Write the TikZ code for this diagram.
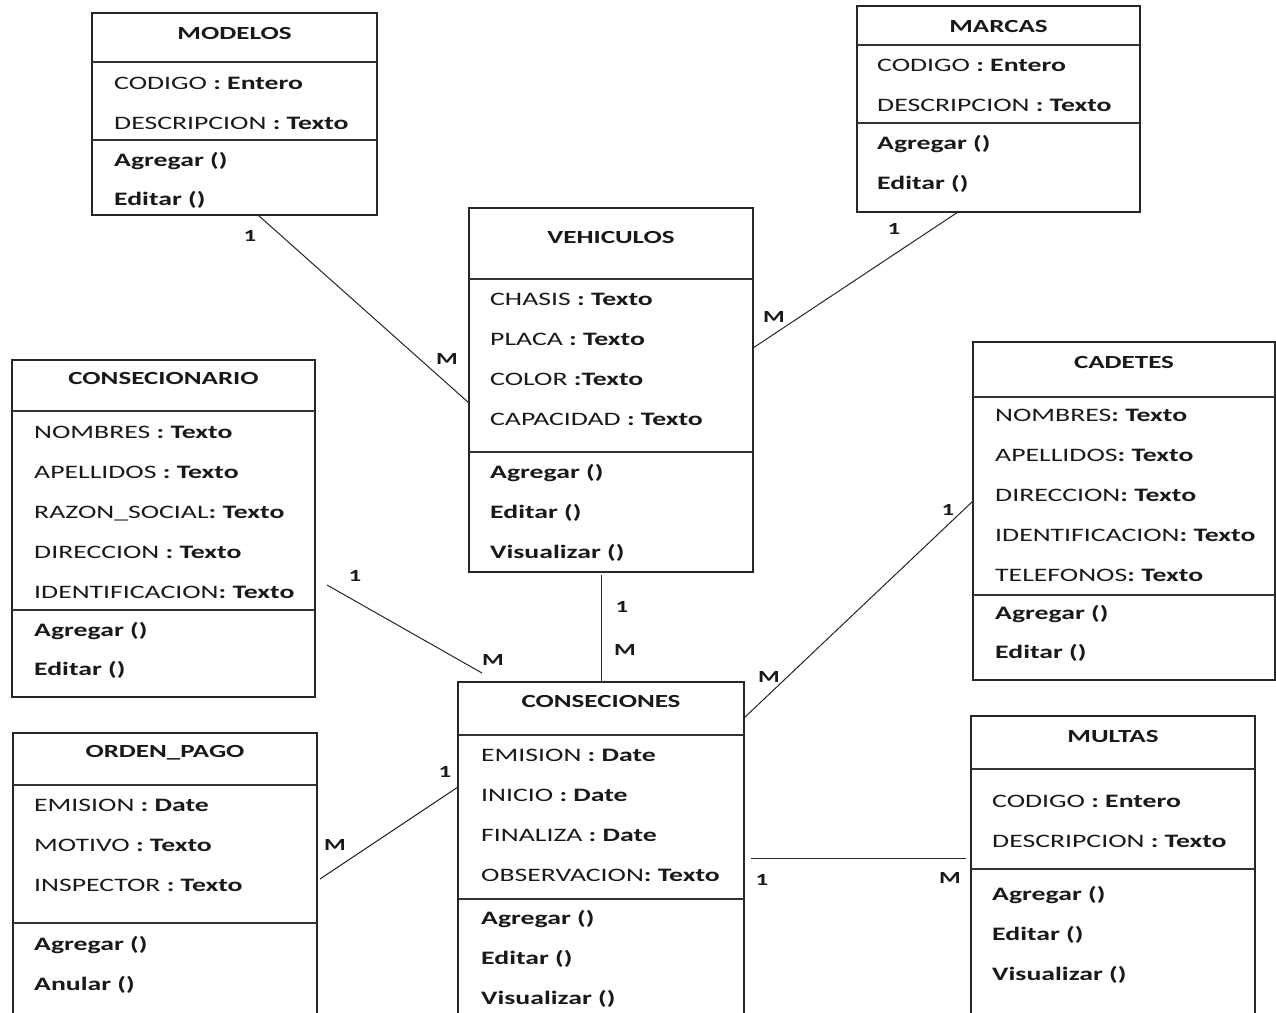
\documentclass[tikz,border=0pt]{standalone}
\usepackage{fontspec}
\setmainfont{Carlito}[FakeStretch=1.46]
\begin{document}
\begin{tikzpicture}[x=1pt,y=-1pt,
  box/.style={draw=black!85,line width=1.5pt,anchor=north west,inner sep=0pt,outer sep=0pt},
  sepline/.style={draw=black!80,line width=1.4pt},
  title/.style={font=\fontsize{18.5}{20}\selectfont\bfseries,inner sep=0pt,anchor=base,text=black!90},
  item/.style={font=\fontsize{19}{21}\selectfont,inner sep=0pt,anchor=base west,text=black!90},
  link/.style={draw=black!85,line width=1pt},
  mult/.style={font=\fontsize{17}{19}\selectfont\bfseries,inner sep=0pt,text=black!90}]
\useasboundingbox (0,0) rectangle (1276,1012);
\clip (0,0) rectangle (1276,1012);
\fill[white] (0,0) rectangle (1276,1012);

% ---------- MODELOS ----------
\node[box,minimum width=285,minimum height=202] (modelos) at (92,13) {};
\draw[sepline] (modelos.west |- 0,62) -- (modelos.east |- 0,62);
\draw[sepline] (modelos.west |- 0,140) -- (modelos.east |- 0,140);
\node[title] (modelosT) at (234.5,39) {MODELOS};
\node[item] (mo1) at (114,89) {CODIGO \textbf{: Entero}};
\node[item] (mo2) at (114,129) {DESCRIPCION \textbf{: Texto}};
\node[item] (mo3) at (114,166) {\textbf{Agregar ()}};
\node[item] (mo4) at (114,205) {\textbf{Editar ()}};

% ---------- MARCAS ----------
\node[box,minimum width=283,minimum height=206] (marcas) at (857,6) {};
\draw[sepline] (marcas.west |- 0,45) -- (marcas.east |- 0,45);
\draw[sepline] (marcas.west |- 0,123) -- (marcas.east |- 0,123);
\node[title] (marcasT) at (998.5,32) {MARCAS};
\node[item] (ma1) at (877,71) {CODIGO \textbf{: Entero}};
\node[item] (ma2) at (877,111) {DESCRIPCION \textbf{: Texto}};
\node[item] (ma3) at (877,149) {\textbf{Agregar ()}};
\node[item] (ma4) at (877,189) {\textbf{Editar ()}};

% ---------- VEHICULOS ----------
\node[box,minimum width=284,minimum height=364] (vehiculos) at (469,208) {};
\draw[sepline] (vehiculos.west |- 0,279) -- (vehiculos.east |- 0,279);
\draw[sepline] (vehiculos.west |- 0,452) -- (vehiculos.east |- 0,452);
\node[title] (vehiculosT) at (611,243) {VEHICULOS};
\node[item] (ve1) at (490,305) {CHASIS \textbf{: Texto}};
\node[item] (ve2) at (490,345) {PLACA \textbf{: Texto}};
\node[item] (ve3) at (490,385) {COLOR \textbf{:Texto}};
\node[item] (ve4) at (490,425) {CAPACIDAD \textbf{: Texto}};
\node[item] (ve5) at (490,478) {\textbf{Agregar ()}};
\node[item] (ve6) at (490,518) {\textbf{Editar ()}};
\node[item] (ve7) at (490,558) {\textbf{Visualizar ()}};

% ---------- CONSECIONARIO ----------
\node[box,minimum width=303,minimum height=337] (consecionario) at (12,360) {};
\draw[sepline] (consecionario.west |- 0,411) -- (consecionario.east |- 0,411);
\draw[sepline] (consecionario.west |- 0,610) -- (consecionario.east |- 0,610);
\node[title] (consecionarioT) at (163.5,384) {CONSECIONARIO};
\node[item] (cn1) at (34,438) {NOMBRES \textbf{: Texto}};
\node[item] (cn2) at (34,478) {APELLIDOS \textbf{: Texto}};
\node[item] (cn3) at (34,518) {RAZON\_SOCIAL\textbf{: Texto}};
\node[item] (cn4) at (34,558) {DIRECCION \textbf{: Texto}};
\node[item] (cn5) at (34,598) {IDENTIFICACION\textbf{: Texto}};
\node[item] (cn6) at (34,636) {\textbf{Agregar ()}};
\node[item] (cn7) at (34,675) {\textbf{Editar ()}};

% ---------- CADETES ----------
\node[box,minimum width=302,minimum height=338] (cadetes) at (973,342) {};
\draw[sepline] (cadetes.west |- 0,397) -- (cadetes.east |- 0,397);
\draw[sepline] (cadetes.west |- 0,595) -- (cadetes.east |- 0,595);
\node[title] (cadetesT) at (1124,368) {CADETES};
\node[item] (ca1) at (995,421) {NOMBRES\textbf{: Texto}};
\node[item] (ca2) at (995,461) {APELLIDOS\textbf{: Texto}};
\node[item] (ca3) at (995,501) {DIRECCION\textbf{: Texto}};
\node[item] (ca4) at (995,541) {IDENTIFICACION\textbf{: Texto}};
\node[item] (ca5) at (995,581) {TELEFONOS\textbf{: Texto}};
\node[item] (ca6) at (995,619) {\textbf{Agregar ()}};
\node[item] (ca7) at (995,658) {\textbf{Editar ()}};

% ---------- ORDEN_PAGO ----------
\node[box,minimum width=304,minimum height=300] (orden) at (13,733) {};
\draw[sepline] (orden.west |- 0,785) -- (orden.east |- 0,785);
\draw[sepline] (orden.west |- 0,923) -- (orden.east |- 0,923);
\node[title] (ordenT) at (165,757) {ORDEN\_PAGO};
\node[item] (or1) at (34,811) {EMISION \textbf{: Date}};
\node[item] (or2) at (34,851) {MOTIVO \textbf{: Texto}};
\node[item] (or3) at (34,891) {INSPECTOR \textbf{: Texto}};
\node[item] (or4) at (34,950) {\textbf{Agregar ()}};
\node[item] (or5) at (34,990) {\textbf{Anular ()}};

% ---------- CONSECIONES ----------
\node[box,minimum width=286,minimum height=350] (conseciones) at (458,682) {};
\draw[sepline] (conseciones.west |- 0,735) -- (conseciones.east |- 0,735);
\draw[sepline] (conseciones.west |- 0,899) -- (conseciones.east |- 0,899);
\node[title] (consecionesT) at (601,707) {CONSECIONES};
\node[item] (cs1) at (481,761) {EMISION \textbf{: Date}};
\node[item] (cs2) at (481,801) {INICIO \textbf{: Date}};
\node[item] (cs3) at (481,841) {FINALIZA \textbf{: Date}};
\node[item] (cs4) at (481,881) {OBSERVACION\textbf{: Texto}};
\node[item] (cs5) at (481,924) {\textbf{Agregar ()}};
\node[item] (cs6) at (481,964) {\textbf{Editar ()}};
\node[item] (cs7) at (481,1004) {\textbf{Visualizar ()}};

% ---------- MULTAS ----------
\node[box,minimum width=284,minimum height=320] (multas) at (971,716) {};
\draw[sepline] (multas.west |- 0,769) -- (multas.east |- 0,769);
\draw[sepline] (multas.west |- 0,869) -- (multas.east |- 0,869);
\node[title] (multasT) at (1113,742) {MULTAS};
\node[item] (mu1) at (992,807) {CODIGO \textbf{: Entero}};
\node[item] (mu2) at (992,847) {DESCRIPCION \textbf{: Texto}};
\node[item] (mu3) at (992,900) {\textbf{Agregar ()}};
\node[item] (mu4) at (992,940) {\textbf{Editar ()}};
\node[item] (mu5) at (992,980) {\textbf{Visualizar ()}};

% ---------- association end points ----------
\coordinate (pModelos) at (modelos.south west -| 258,0);
\coordinate (pVehL) at (vehiculos.west |- 0,403);
\coordinate (pMarcas) at (marcas.south west -| 958,0);
\coordinate (pVehR) at (vehiculos.east |- 0,348);
\coordinate (pConA) at (327,585);
\coordinate (pConB) at (482,673);
\coordinate (pVehB) at (601,575);
\coordinate (pCsTop) at (conseciones.north west -| 601,0);
\coordinate (pCad) at (cadetes.west |- 0,501);
\coordinate (pCsR) at (conseciones.east |- 0,718);
\coordinate (pOrd) at (320,879);
\coordinate (pCsL) at (conseciones.west |- 0,787);
\coordinate (pCsM) at (751,858);
\coordinate (pMul) at (966,858);

% ---------- associations ----------
\draw[link] (pModelos) -- (pVehL);
\draw[link] (pMarcas) -- (pVehR);
\draw[link] (pConA) -- (pConB);
\draw[link] (pVehB) -- (pCsTop);
\draw[link] (pCad) -- (pCsR);
\draw[link] (pOrd) -- (pCsL);
\draw[link] (pCsM) -- (pMul);

% ---------- multiplicities ----------
\node[mult] (k1) at (250,236) {1};
\node[mult] (k2) at (447,359) {M};
\node[mult] (k3) at (894,229) {1};
\node[mult] (k4) at (774,317) {M};
\node[mult] (k5) at (355,576) {1};
\node[mult] (k6) at (493,660) {M};
\node[mult] (k7) at (622,607) {1};
\node[mult] (k8) at (625,650) {M};
\node[mult] (k9) at (948,510) {1};
\node[mult] (k10) at (769,677) {M};
\node[mult] (k11) at (445,772) {1};
\node[mult] (k12) at (335,845) {M};
\node[mult] (k13) at (762,880) {1};
\node[mult] (k14) at (950,878) {M};
\end{tikzpicture}
\end{document}
